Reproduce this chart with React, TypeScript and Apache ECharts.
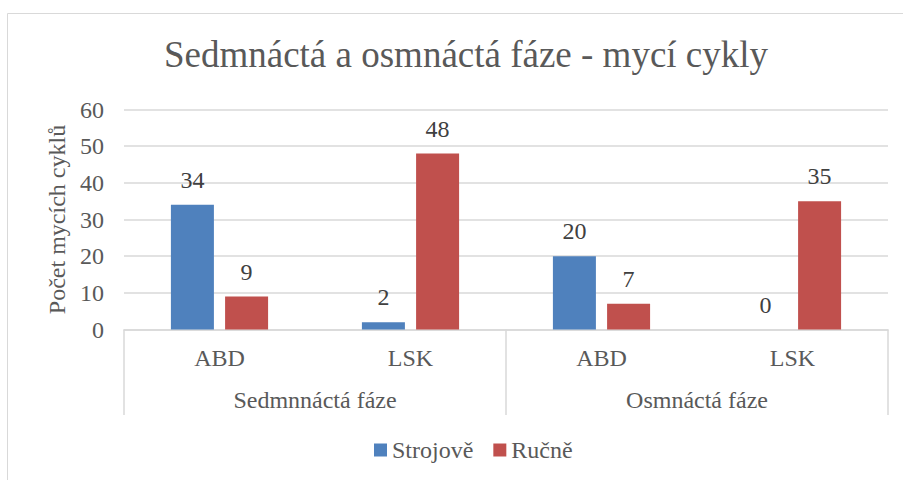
import React, { useEffect, useRef } from "react";
import * as echarts from "echarts";

const titleText = "Sedmnáctá a osmnáctá fáze - mycí cykly";
const categories = ["ABD", "LSK", "ABD", "LSK"];
const groups = ["Sedmnnáctá fáze", "Osmnáctá fáze"];
const seriesNames = ["Strojově", "Ručně"];
const strojove = [34, 2, 20, 0];
const rucne = [9, 48, 7, 35];
const yAxisName = "Počet mycích cyklů";

const FONT = "Liberation Serif";
const TEXT = "#595959";
const GRID = "#d9d9d9";

const txt = (size: number, color = TEXT) => ({
  fontFamily: FONT,
  fontSize: size,
  fontWeight: "normal",
  fontStyle: "normal",
  color,
});

export default function App() {
  const ref = useRef<HTMLDivElement>(null);
  useEffect(() => {
    if (!ref.current) return;
    const chart = echarts.init(ref.current, null, { renderer: "svg" });
    const label = {
      show: true,
      position: "top",
      distance: 13,
      ...txt(24, "#404040"),
    };
    chart.setOption({
      animation: false,
      backgroundColor: "#ffffff",
      title: {
        text: titleText,
        left: 461,
        top: 31,
        textAlign: "center",
        textStyle: txt(37),
      },
      graphic: [
        {
          type: "rect",
          shape: { x: 7.5, y: 13.5, width: 1000, height: 1000 },
          style: { fill: "none", stroke: GRID, lineWidth: 1 },
          silent: true,
        },
      ],
      legend: {
        data: seriesNames,
        left: 369,
        top: 433,
        icon: "rect",
        itemWidth: 13,
        itemHeight: 13,
        itemGap: 20,
        textStyle: txt(24),
      },
      grid: { left: 124, right: 15, top: 109.5, bottom: 150.5, containLabel: false },
      xAxis: [
        {
          type: "category",
          data: categories,
          position: "bottom",
          axisLine: { show: true, lineStyle: { color: GRID, width: 1.5 } },
          axisTick: { show: false },
          axisLabel: { margin: 16, interval: 0, ...txt(24) },
        },
        {
          type: "category",
          data: groups,
          position: "bottom",
          axisLine: { show: false },
          axisTick: { show: true, length: 85.5, interval: 0, lineStyle: { color: GRID, width: 1.5 } },
          axisLabel: { margin: 58, interval: 0, ...txt(24) },
          splitLine: { show: false },
        },
      ],
      yAxis: {
        type: "value",
        min: 0,
        max: 60,
        interval: 10,
        name: yAxisName,
        nameLocation: "middle",
        nameRotate: 90,
        nameGap: 52,
        nameTextStyle: txt(24),
        axisLine: { show: false },
        axisTick: { show: false },
        axisLabel: { margin: 20, ...txt(24) },
        splitLine: { lineStyle: { color: GRID, width: 1.5 } },
      },
      series: [
        {
          name: seriesNames[0],
          type: "bar",
          data: strojove,
          barWidth: 43,
          barGap: "26%",
          itemStyle: { color: "#4F81BD" },
          label,
        },
        {
          name: seriesNames[1],
          type: "bar",
          data: rucne,
          barWidth: 43,
          barGap: "26%",
          itemStyle: { color: "#C0504D" },
          label,
        },
      ],
    });
    return () => chart.dispose();
  }, []);
  return (
    <div
      ref={ref}
      style={{ position: "fixed", left: 0, top: 0, width: 903, height: 480 }}
    />
  );
}
